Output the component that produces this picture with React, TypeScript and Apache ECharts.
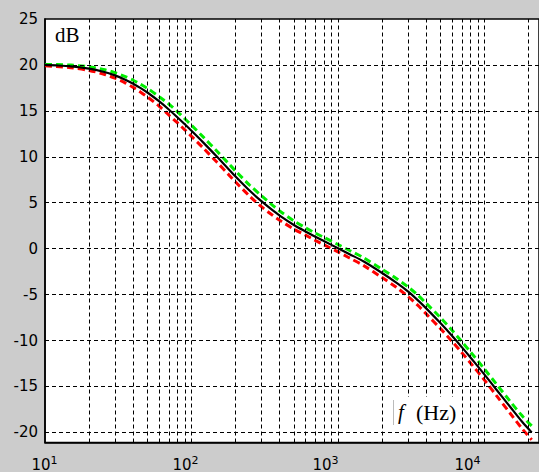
import React, { useEffect, useRef } from "react";
import * as echarts from "echarts";

// Frequencies (Hz)
const freqs = [10, 12, 15, 20, 25, 30, 35, 40, 45, 50, 60, 70, 80, 90, 100, 120, 150, 180, 200, 250, 300, 350, 400, 500, 600, 700, 800, 1000, 1200, 1500, 2000, 2500, 3000, 3500, 4000, 5000, 6000, 7000, 8000, 10000, 12000, 15000, 18000, 21000];
// Magnitude (dB)
const blackDb = [20.0, 19.95, 19.85, 19.6, 19.26, 18.86, 18.42, 17.96, 17.48, 17.0, 16.05, 15.15, 14.31, 13.54, 12.83, 11.57, 9.97, 8.63, 7.85, 6.3, 5.17, 4.3, 3.6, 2.58, 1.87, 1.3, 0.83, 0.05, -0.6, -1.4, -2.65, -3.7, -4.65, -5.6, -6.5, -8.1, -9.48, -10.72, -11.82, -13.71, -15.3, -17.24, -18.82, -20.0];
const greenDb = [20.05, 20.05, 19.98, 19.8, 19.51, 19.16, 18.75, 18.33, 17.88, 17.45, 16.55, 15.75, 14.91, 14.14, 13.43, 12.17, 10.57, 9.23, 8.45, 6.9, 5.77, 4.85, 4.1, 3.03, 2.27, 1.7, 1.23, 0.45, -0.2, -1.0, -2.25, -3.25, -4.15, -5.05, -5.95, -7.5, -8.88, -10.12, -11.22, -13.11, -14.7, -16.64, -18.17, -19.3];
const redDb = [19.9, 19.83, 19.7, 19.4, 19.01, 18.56, 18.07, 17.56, 17.03, 16.52, 15.53, 14.55, 13.71, 12.94, 12.23, 10.97, 9.37, 8.03, 7.25, 5.7, 4.57, 3.75, 3.1, 2.13, 1.47, 0.9, 0.43, -0.35, -1.02, -1.85, -3.15, -4.2, -5.2, -6.15, -7.1, -8.7, -10.08, -11.32, -12.42, -14.31, -15.95, -17.94, -19.57, -20.8];

// Axis ticks
const yTicks = [-20, -15, -10, -5, 0, 5, 10, 15, 20, 25];
const xTickValues = [10, 100, 1000, 10000];
const xGridValues = [20, 30, 40, 50, 60, 70, 80, 90, 100, 200, 300, 400, 500, 600, 700, 800, 900, 1000, 2000, 3000, 4000, 5000, 6000, 7000, 8000, 9000, 10000, 20000];
const yGridValues = [-20, -15, -10, -5, 0, 5, 10, 15, 20];
const xMin = 10;
const xMax = 23550;
const yMin = -21.1;
const yMax = 25;

const labelShift: Record<number, number> = { 1: 1, 2: 12, 3: 25, 4: 34 };

export default function App() {
  const ref = useRef<HTMLDivElement>(null);
  useEffect(() => {
    if (!ref.current) return;
    const chart = echarts.init(ref.current, null, { renderer: "svg" });
    const pairs = (vals: number[]) => freqs.map((f, i) => [f, vals[i]]);
    const rich: any = {};
    [1, 2, 3, 4].forEach((e) => {
      rich["b" + e] = { fontFamily: "DejaVu Sans", fontSize: 15, color: "#000", lineHeight: 20 };
      rich["s" + e] = { fontFamily: "DejaVu Sans", fontSize: 11, color: "#000", lineHeight: 9, verticalAlign: "top", padding: [0, labelShift[e], 0, 0] };
    });
    const gridLine = { color: "#000", width: 1, type: [4, 3] as any };
    chart.setOption({
      animation: false,
      backgroundColor: "#cccccc",
      grid: { left: 45, top: 19, right: 0, bottom: 29, show: true, backgroundColor: "#fff", borderColor: "#000", borderWidth: 1.5 },
      xAxis: {
        type: "log",
        logBase: 10,
        min: xMin,
        max: xMax,
        axisLine: { show: true, onZero: false, lineStyle: { color: "#000", width: 1.5 } },
        axisTick: { show: false },
        splitLine: { show: false },
        minorSplitLine: { show: false },
        axisLabel: {
          customValues: xTickValues,
          margin: 12,
          formatter: (v: number) => {
            const e = Math.round(Math.log10(v));
            if (Math.abs(Math.pow(10, e) - v) > 1e-6 * v) return "";
            return `{b${e}|10}{s${e}|${e}}`;
          },
          rich,
        },
      },
      yAxis: {
        type: "value",
        min: yMin,
        max: yMax,
        axisLine: { show: true, onZero: false, lineStyle: { color: "#000", width: 1.5 } },
        axisTick: { show: false },
        splitLine: { show: false },
        axisLabel: {
          customValues: yTicks,
          margin: 7,
          color: "#000",
          fontFamily: "DejaVu Sans",
          fontSize: 15,
        },
      },
      series: [
        {
          type: "line",
          data: [],
          z: 1,
          silent: true,
          markLine: {
            silent: true,
            symbol: ["none", "none"],
            label: { show: false },
            lineStyle: gridLine,
            emphasis: { disabled: true },
            data: [
              ...xGridValues.map((v) => ({ xAxis: v })),
              ...yGridValues.map((v) => ({ yAxis: v })),
            ],
          },
        },
        {
          type: "line",
          data: pairs(greenDb),
          showSymbol: false,
          smooth: 0.3,
          z: 3,
          lineStyle: { color: "#00ee00", width: 3, type: [7, 4] },
        },
        {
          type: "line",
          data: pairs(redDb),
          showSymbol: false,
          smooth: 0.3,
          z: 3,
          lineStyle: { color: "#ff0000", width: 3, type: [7, 4] },
        },
        {
          type: "line",
          data: pairs(blackDb),
          showSymbol: false,
          smooth: 0.3,
          z: 4,
          lineStyle: { color: "#000", width: 2.2 },
        },
      ],
      graphic: [
        {
          type: "text",
          left: 55,
          top: 24,
          z: 10,
          style: { text: "dB", font: "21px 'Liberation Serif'", fill: "#000" },
        },
        {
          type: "rect",
          shape: { x: 392, y: 397, width: 68, height: 33 },
          z: 10,
          style: { fill: "#fff" },
        },
        {
          type: "line",
          shape: { x1: 393.5, y1: 400, x2: 393.5, y2: 425 },
          z: 11,
          style: { stroke: "#bbbbbb", lineWidth: 1 },
        },
        {
          type: "text",
          x: 398,
          y: 401,
          z: 11,
          style: { text: "f", font: "italic 21px 'Liberation Serif'", fill: "#000" },
        },
        {
          type: "text",
          x: 416,
          y: 401,
          z: 11,
          style: { text: "(Hz)", font: "22px 'Liberation Serif'", fill: "#000" },
        },
      ],
    });
    return () => chart.dispose();
  }, []);
  return <div ref={ref} style={{ position: "fixed", left: 0, top: 0, width: 539, height: 472 }} />;
}
